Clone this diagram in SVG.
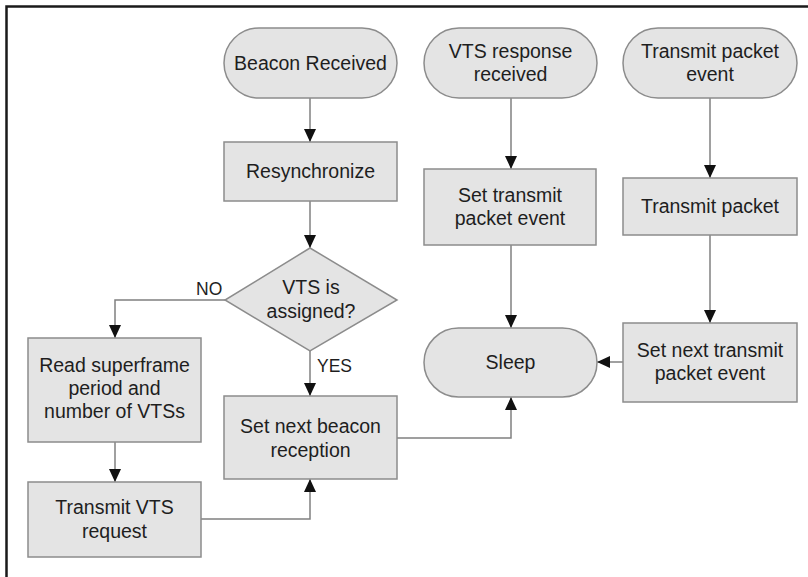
<svg xmlns="http://www.w3.org/2000/svg" width="808" height="577" viewBox="0 0 808 577">
<defs>
<marker id="arr" markerWidth="13" markerHeight="13" refX="13" refY="6" orient="auto" markerUnits="userSpaceOnUse">
<path d="M0,0 L13,6 L0,12 Z" fill="#111"/>
</marker>
</defs>
<style>
.n{fill:#e4e4e4;stroke:#8c8c8c;stroke-width:1.5}
.t{font-family:"Liberation Sans",Arial,sans-serif;font-size:19.5px;fill:#1e1e1e;text-anchor:middle}
.l{font-family:"Liberation Sans",Arial,sans-serif;font-size:17.5px;fill:#1e1e1e}
.c{fill:none;stroke:#808080;stroke-width:1.5;marker-end:url(#arr)}
</style>
<rect width="808" height="577" fill="#fff"/>
<path d="M6.5,577 V6.5 H808" fill="none" stroke="#1a1a1a" stroke-width="2.5"/>
<g id="connectors">
<path class="c" d="M310,98 V142"/>
<path class="c" d="M310,201 V248"/>
<path class="c" d="M225,300 H115 V338"/>
<path class="c" d="M310,351 V396"/>
<path class="c" d="M115,442 V482"/>
<path class="c" d="M201,519 H310 V479"/>
<path class="c" d="M397,438 H511 V397"/>
<path class="c" d="M511,98 V169"/>
<path class="c" d="M511,245 V328"/>
<path class="c" d="M710,98 V178"/>
<path class="c" d="M710,235 V323"/>
<path class="c" d="M623,362 H597"/>
<text class="l" x="196" y="295">NO</text>
<text class="l" x="317" y="372">YES</text>
</g>
<g id="beacon-received">
<rect class="n" x="224" y="28" width="173" height="70" rx="35"/>
<text class="t" x="310.5" y="70">Beacon Received</text>
</g>
<g id="resynchronize">
<rect class="n" x="224" y="142" width="173" height="59"/>
<text class="t" x="310.5" y="178">Resynchronize</text>
</g>
<g id="vts-assigned">
<polygon class="n" points="310,248 397,300 310,351 225,300"/>
<text class="t" x="311" y="294">VTS is</text>
<text class="t" x="311" y="318">assigned?</text>
</g>
<g id="read-superframe">
<rect class="n" x="28" y="338" width="173" height="104"/>
<text class="t" x="114.5" y="372">Read superframe</text>
<text class="t" x="114.5" y="395">period and</text>
<text class="t" x="114.5" y="418">number of VTSs</text>
</g>
<g id="transmit-vts-request">
<rect class="n" x="28" y="482" width="173" height="75"/>
<text class="t" x="114.5" y="514">Transmit VTS</text>
<text class="t" x="114.5" y="538">request</text>
</g>
<g id="set-next-beacon">
<rect class="n" x="224" y="396" width="173" height="83"/>
<text class="t" x="310.5" y="433">Set next beacon</text>
<text class="t" x="310.5" y="457">reception</text>
</g>
<g id="vts-response-received">
<rect class="n" x="424" y="28" width="173" height="70" rx="35"/>
<text class="t" x="510.5" y="58">VTS response</text>
<text class="t" x="510.5" y="81">received</text>
</g>
<g id="set-transmit-packet-event">
<rect class="n" x="424" y="169" width="172" height="76"/>
<text class="t" x="510" y="202">Set transmit</text>
<text class="t" x="510" y="225">packet event</text>
</g>
<g id="sleep">
<rect class="n" x="424" y="328" width="173" height="69" rx="34.5"/>
<text class="t" x="510.5" y="369">Sleep</text>
</g>
<g id="transmit-packet-event">
<rect class="n" x="623" y="28" width="174" height="70" rx="35"/>
<text class="t" x="710" y="58">Transmit packet</text>
<text class="t" x="710" y="81">event</text>
</g>
<g id="transmit-packet">
<rect class="n" x="623" y="178" width="174" height="57"/>
<text class="t" x="710" y="213">Transmit packet</text>
</g>
<g id="set-next-transmit">
<rect class="n" x="623" y="323" width="174" height="79"/>
<text class="t" x="710" y="357">Set next transmit</text>
<text class="t" x="710" y="380">packet event</text>
</g>
</svg>
